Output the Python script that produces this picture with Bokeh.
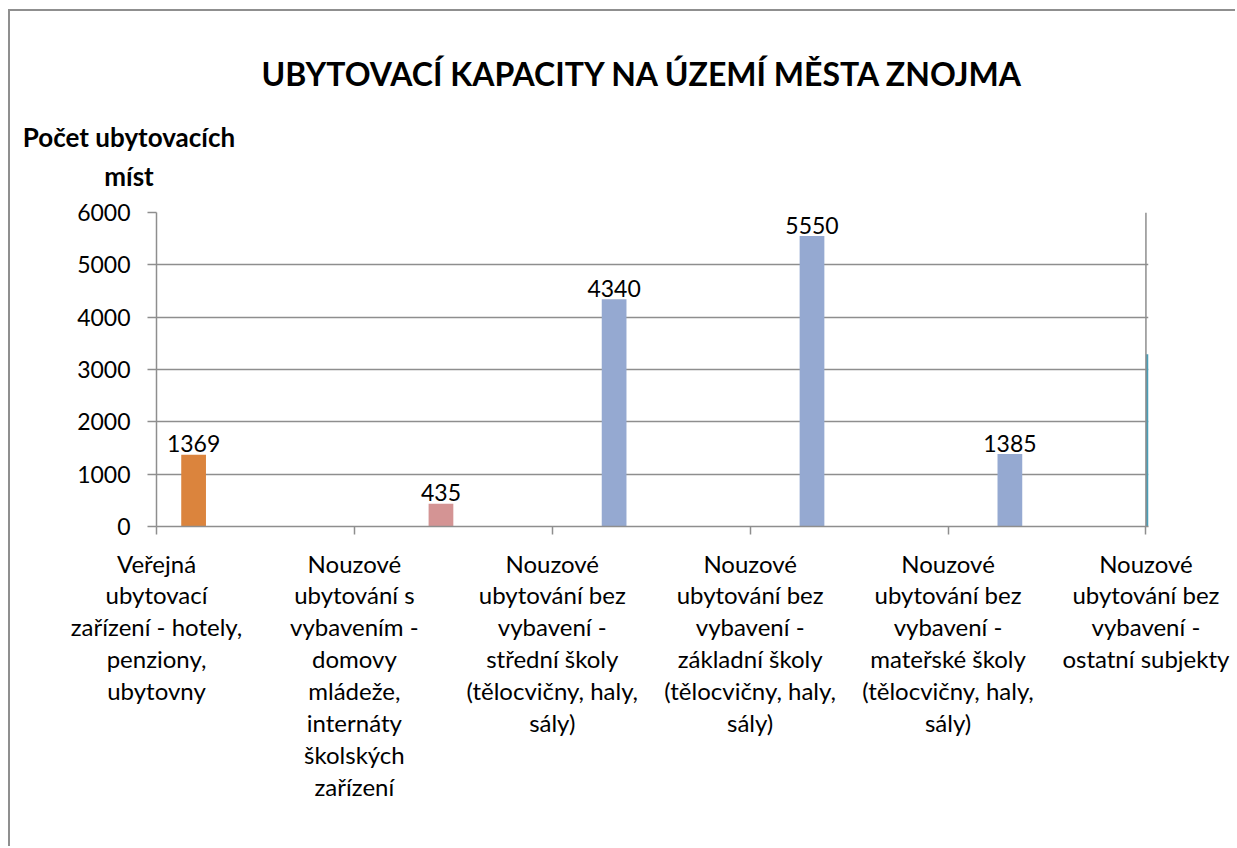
from bokeh.plotting import figure
from bokeh.models import Range1d, FixedTicker, Span, Spacer
from bokeh.layouts import column, row
from bokeh.core.properties import value
from bokeh.embed import file_html
from bokeh.resources import INLINE

# ---------------- data ----------------
categories = [
    "Veřejná\nubytovací\nzařízení - hotely,\npenziony,\nubytovny",
    "Nouzové\nubytování s\nvybavením -\ndomovy\nmládeže,\ninternáty\nškolských\nzařízení",
    "Nouzové\nubytování bez\nvybavení -\nstřední školy\n(tělocvičny, haly,\nsály)",
    "Nouzové\nubytování bez\nvybavení -\nzákladní školy\n(tělocvičny, haly,\nsály)",
    "Nouzové\nubytování bez\nvybavení -\nmateřské školy\n(tělocvičny, haly,\nsály)",
    "Nouzové\nubytování bez\nvybavení -\nostatní subjekty",
]
verejna_zarizeni = [1369, 0, 0, 0, 0, 0]
s_vybavenim = [0, 435, 0, 0, 0, 0]
bez_vybaveni = [0, 0, 4340, 5550, 1385, 0]
ostatni = [0, 0, 0, 0, 0, 3290]
y_ticks = [0, 1000, 2000, 3000, 4000, 5000, 6000]

title_text = "UBYTOVACÍ KAPACITY NA ÚZEMÍ MĚSTA ZNOJMA"
ylabel_lines = ["Počet ubytovacích", "míst"]

# ---------------- layout constants ----------------
FONT = "Lato"
GRID = "#8e8e8e"
BORDER = "2px solid #8f8f8f"
OX, OY = 10, 11                      # page position of the canvases
W = 1227
HH = 190                             # header canvas height
H = 837 - HH                         # main canvas height
FL, FT, FW, FH = 146, 203 - HH, 992, 314
X_END = 5.013
SLOT = 0.125

# ---------------- header (title + y-axis caption) ----------------
hdr = figure(width=W, height=HH, output_backend="svg", toolbar_location=None,
             x_range=Range1d(0, W), y_range=Range1d(0, HH),
             x_axis_type=None, y_axis_type=None,
             min_border_left=0, min_border_right=0, min_border_top=0, min_border_bottom=0,
             background_fill_color="white", border_fill_color="white")
hdr.frame_align = False
hdr.outline_line_color = None
hdr.styles = {"border-left": BORDER, "border-top": BORDER}

def page_x(px):
    return px - OX
def page_y(py):
    return HH - (py - OY)

hdr.text(x=[page_x(642.5)], y=[page_y(73)], text=[title_text], text_align="center",
         text_baseline="alphabetic", text_font=value(FONT), text_font_size="32px",
         text_font_style="bold", text_color="black")
hdr.text(x=[page_x(128.5), page_x(128.5)], y=[page_y(136), page_y(175)],
         text=ylabel_lines, text_align="center", text_baseline="alphabetic",
         text_font=value(FONT), text_font_size="26px", text_font_style="bold",
         text_color="black")

# ---------------- main chart ----------------
p = figure(width=W, height=H, output_backend="svg", toolbar_location=None,
           x_range=Range1d(0, X_END), y_range=Range1d(0, 6000),
           min_border_left=FL, min_border_right=W - FL - FW,
           min_border_top=FT, min_border_bottom=H - FT - FH,
           background_fill_color="white", border_fill_color="white")
p.frame_align = False
p.styles = {"border-left": BORDER}
p.outline_line_color = None

def bars(vals, slot, color):
    xs = [i + slot * SLOT for i, v in enumerate(vals) if v]
    ys = [v for v in vals if v]
    p.vbar(x=xs, top=ys, width=SLOT, color=color, line_color=None)
    return xs, ys

bars(ostatni, 0.5, "#4a9fb8")
lx1, ly1 = bars(verejna_zarizeni, 1.5, "#db843d")
lx2, ly2 = bars(bez_vybaveni, 2.5, "#95a9d1")
lx3, ly3 = bars(s_vybavenim, 3.5, "#d49494")

lx = lx1 + lx2 + lx3
ly = ly1 + ly2 + ly3
p.text(x=lx, y=ly, text=[str(v) for v in ly], text_align="center",
       text_baseline="alphabetic", y_offset=-11, text_font_size="23px",
       text_font=value(FONT), text_color="black")

# right border of plot area
p.add_layout(Span(location=5, dimension="height", line_color=GRID, line_width=1.5))

# axes
p.xaxis.ticker = FixedTicker(ticks=list(range(len(categories))))
p.xaxis.major_label_overrides = {i: c for i, c in enumerate(categories)}
p.xaxis.major_label_text_font = FONT
p.xaxis.major_label_text_font_size = "24px"
p.xaxis.major_label_text_line_height = 1.10
p.xaxis.major_label_text_align = "center"
p.xaxis.major_label_standoff = 14
p.xaxis.major_tick_out = 8
p.xaxis.major_tick_in = 0
p.xaxis.minor_tick_line_color = None
p.xaxis.axis_line_color = GRID
p.xaxis.axis_line_width = 1.5
p.xaxis.major_tick_line_color = GRID
p.xaxis.major_tick_line_width = 1.5
p.xaxis.major_label_text_color = "black"

p.yaxis.ticker = FixedTicker(ticks=y_ticks)
p.yaxis.major_label_text_font = FONT
p.yaxis.major_label_text_font_size = "23px"
p.yaxis.major_label_standoff = 17
p.yaxis.major_tick_out = 9
p.yaxis.major_tick_in = 0
p.yaxis.minor_tick_line_color = None
p.yaxis.axis_line_color = GRID
p.yaxis.axis_line_width = 1.5
p.yaxis.major_tick_line_color = GRID
p.yaxis.major_tick_line_width = 1.5
p.yaxis.major_label_text_color = "black"

p.xgrid.grid_line_color = None
p.ygrid.grid_line_color = GRID
p.ygrid.grid_line_width = 1.5
p.ygrid.ticker = FixedTicker(ticks=y_ticks)

layout = column(Spacer(height=OY - 2), row(Spacer(width=OX - 2), column(hdr, p)))
open("out.html", "w").write(file_html(layout, INLINE))
